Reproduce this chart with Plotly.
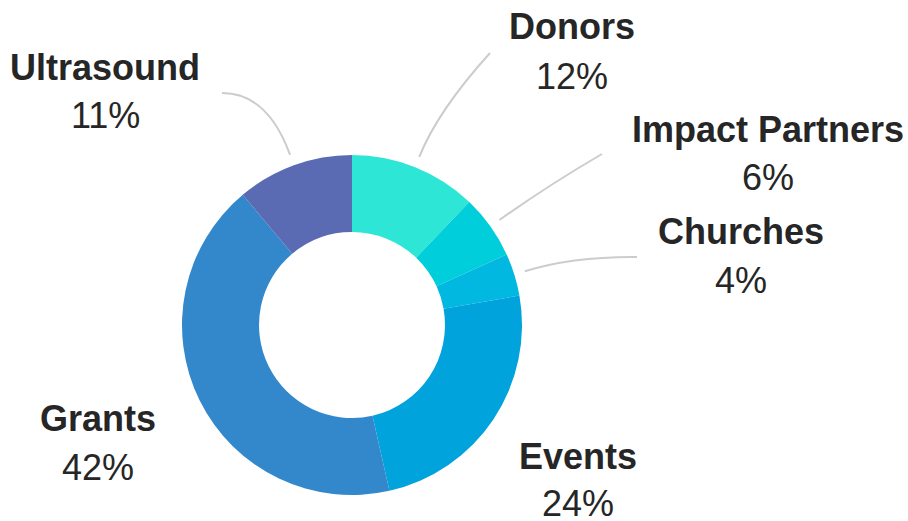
import math
import plotly.graph_objects as go

# ---- data ----
categories = ["Donors", "Impact Partners", "Churches", "Events", "Grants", "Ultrasound"]
values = [12, 6, 4, 24, 42, 11]
pct_labels = ["12%", "6%", "4%", "24%", "42%", "11%"]
colors = ["#2EE6D6", "#00CEDB", "#00B8E0", "#00A3DC", "#3388CC", "#5A6BB3"]

# ---- layout constants (screen pixels) ----
W, H = 908, 521
CX, CY, R = 352, 325, 170
HOLE = 0.547
# centre of the name text and of the percentage text for each label
name_pos = [(572, 27), (768, 129), (741, 231), (578, 456), (98, 418), (105, 67)]
pct_dy = [49, 49, 49, 47, 49, 49]
# leader line end points (None = no leader) and bend distance along the radius
leader_end = [(490, 53), (602, 154), (637, 257), None, None, (222, 93)]
leader_bend = [50, 60, 50, 0, 0, 66]
leader_start_r = 181

def px(x):
    return x / W

def py(y):
    return 1 - y / H

fig = go.Figure(go.Pie(
    labels=categories,
    values=values,
    marker=dict(colors=colors, line=dict(width=0)),
    hole=HOLE,
    sort=False,
    direction="clockwise",
    rotation=0,
    textinfo="none",
    hoverinfo="label+percent",
    domain=dict(x=[px(CX - R), px(CX + R)], y=[py(CY + R), py(CY - R)]),
    showlegend=False,
))

total = sum(values)
cum = 0
shapes = []
annotations = []
for i, v in enumerate(values):
    mid = (cum + v / 2) / total * 2 * math.pi
    cum += v
    dx, dy = math.sin(mid), -math.cos(mid)
    end = leader_end[i]
    if end is not None:
        x0, y0 = CX + leader_start_r * dx, CY + leader_start_r * dy
        cx_, cy_ = x0 + leader_bend[i] * dx, y0 + leader_bend[i] * dy
        path = f"M {px(x0)} {py(y0)} Q {px(cx_)} {py(cy_)} {px(end[0])} {py(end[1])}"
        shapes.append(dict(type="path", path=path, xref="paper", yref="paper",
                           line=dict(color="#CCCCCC", width=2)))
    nx, ny = name_pos[i]
    annotations.append(dict(x=px(nx), y=py(ny), xref="paper", yref="paper",
                            text=f"<b>{categories[i]}</b>", showarrow=False,
                            xanchor="center", yanchor="middle",
                            font=dict(family="Liberation Sans", size=36, color="#262626")))
    annotations.append(dict(x=px(nx), y=py(ny + pct_dy[i]), xref="paper", yref="paper",
                            text=pct_labels[i], showarrow=False,
                            xanchor="center", yanchor="middle",
                            font=dict(family="Liberation Sans", size=36, color="#262626")))

fig.update_layout(
    width=W, height=H,
    margin=dict(l=0, r=0, t=0, b=0),
    paper_bgcolor="white",
    plot_bgcolor="white",
    shapes=shapes,
    annotations=annotations,
)

fig.write_html(
    "out.html",
    config={"displayModeBar": False},
    post_script="document.body.style.margin='0';document.body.style.overflow='hidden';",
)
